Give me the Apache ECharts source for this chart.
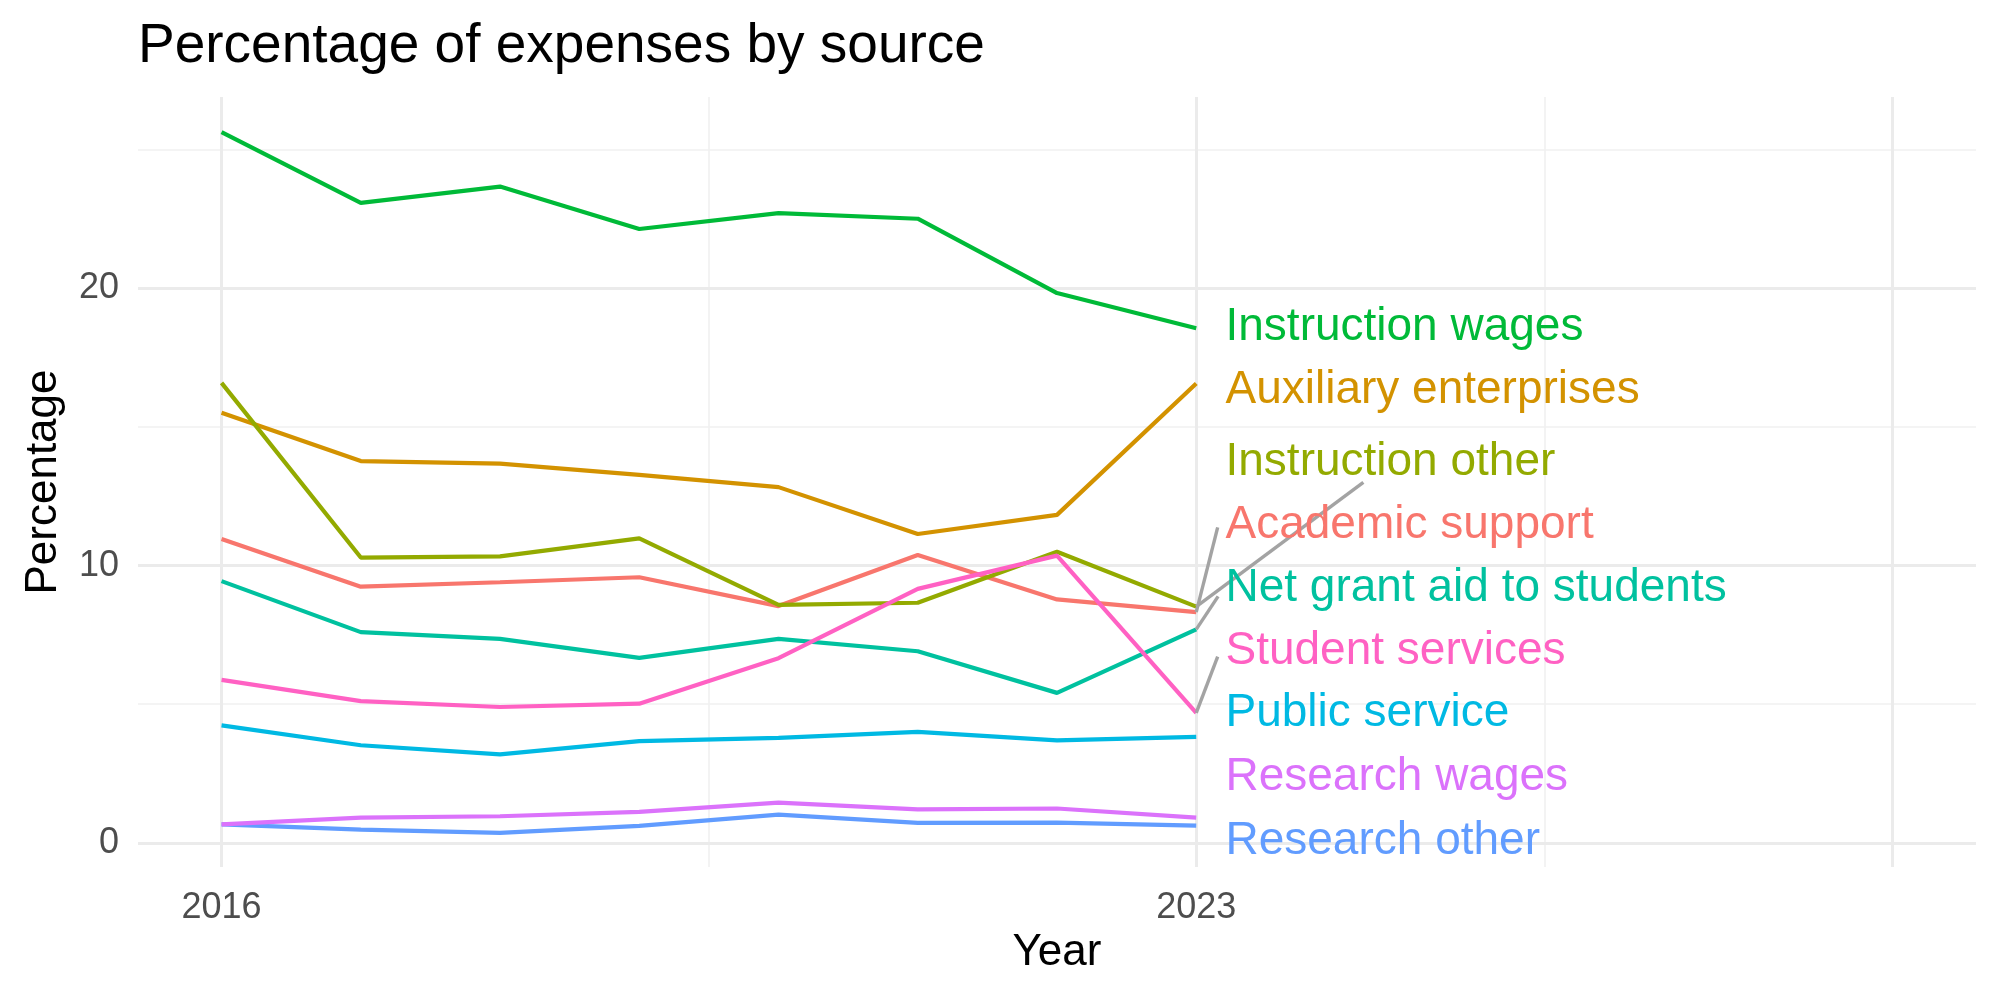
<!DOCTYPE html>
<html>
<head>
<meta charset="utf-8">
<title>Percentage of expenses by source</title>
<script src="https://cdn.jsdelivr.net/npm/echarts@6/dist/echarts.min.js"></script>
<style>
  html, body { margin: 0; padding: 0; background: #fff; }
  #chart { width: 2000px; height: 1000px; }
</style>
</head>
<body>
<div id="chart"></div>
<script>
// data
const years = [2016, 2017, 2018, 2019, 2020, 2021, 2022, 2023];

const academicSupport = [10.96, 9.24, 9.40, 9.58, 8.54, 10.38, 8.78, 8.32];
const auxiliaryEnterprises = [15.51, 13.77, 13.68, 13.27, 12.83, 11.14, 11.83, 16.57];
const instructionOther = [16.59, 10.29, 10.33, 10.98, 8.58, 8.66, 10.50, 8.52];
const instructionWages = [25.63, 23.08, 23.67, 22.14, 22.71, 22.51, 19.83, 18.56];
const netGrantAid = [9.44, 7.60, 7.36, 6.67, 7.36, 6.91, 5.41, 7.70];
const publicService = [4.24, 3.52, 3.19, 3.67, 3.79, 4.00, 3.70, 3.82];
const researchOther = [0.67, 0.48, 0.36, 0.61, 1.02, 0.72, 0.73, 0.62];
const researchWages = [0.67, 0.91, 0.96, 1.12, 1.45, 1.21, 1.24, 0.91];
const studentServices = [5.88, 5.11, 4.90, 5.02, 6.66, 9.16, 10.36, 4.69];

const xTickLabels = [2016, 2023];
const yTickLabels = [0, 10, 20];

// series set up in the ggplot hue order
const groups = [
  { name: 'Academic support', values: academicSupport, color: '#F8766D' },
  { name: 'Auxiliary enterprises', values: auxiliaryEnterprises, color: '#D39200' },
  { name: 'Instruction other', values: instructionOther, color: '#93AA00' },
  { name: 'Instruction wages', values: instructionWages, color: '#00BA38' },
  { name: 'Net grant aid to students', values: netGrantAid, color: '#00C19F' },
  { name: 'Public service', values: publicService, color: '#00B9E3' },
  { name: 'Research other', values: researchOther, color: '#619CFF' },
  { name: 'Research wages', values: researchWages, color: '#DB72FB' },
  { name: 'Student services', values: studentServices, color: '#FF61C3' }
];

// where the repelled labels sit (layout, not data)
const labelX = 2023.21;
const labelAt = {
  'Instruction wages': 18.58,
  'Auxiliary enterprises': 16.32,
  'Instruction other': 13.74,
  'Academic support': 11.44,
  'Net grant aid to students': 9.18,
  'Student services': 6.92,
  'Public service': 4.66,
  'Research wages': 2.36,
  'Research other': 0.06
};
// grey leader segments end points
const leaderEnd = {
  'Instruction other': [2024.2, 13.0],
  'Academic support': [2023.154, 11.38],
  'Net grant aid to students': [2023.157, 8.89],
  'Student services': [2023.154, 6.72]
};

const font = '"Liberation Sans", Arial, sans-serif';
const majorGrid = { color: '#EBEBEB', width: 3, type: 'solid' };
const minorGrid = { color: '#F0F0F0', width: 1.6, type: 'solid' };

const gridSeries = {
  type: 'line',
  data: [],
  silent: true,
  z: 1,
  markLine: {
    silent: true,
    z: 1,
    symbol: 'none',
    label: { show: false },
    animation: false,
    data: [
      { xAxis: 2019.5, lineStyle: minorGrid },
      { xAxis: 2025.5, lineStyle: minorGrid },
      { yAxis: 5, lineStyle: minorGrid },
      { yAxis: 15, lineStyle: minorGrid },
      { yAxis: 25, lineStyle: minorGrid },
      { xAxis: 2016, lineStyle: majorGrid },
      { xAxis: 2023, lineStyle: majorGrid },
      { xAxis: 2028, lineStyle: majorGrid },
      { yAxis: 0, lineStyle: majorGrid },
      { yAxis: 10, lineStyle: majorGrid },
      { yAxis: 20, lineStyle: majorGrid }
    ]
  }
};

const lineSeries = groups.map(g => {
  const last = g.values[g.values.length - 1];
  const s = {
    name: g.name,
    type: 'line',
    z: 3,
    data: years.map((y, i) => [y, g.values[i]]),
    showSymbol: false,
    symbol: 'none',
    lineStyle: { color: g.color, width: 4.2 },
    itemStyle: { color: g.color },
    animation: false,
    markPoint: {
      symbol: 'circle',
      symbolSize: 0,
      animation: false,
      data: [{
        coord: [labelX, labelAt[g.name]],
        label: {
          show: true,
          position: 'right',
          distance: 0,
          formatter: g.name,
          color: g.color,
          fontSize: 46,
          fontFamily: font
        }
      }]
    }
  };
  if (leaderEnd[g.name]) {
    s.markLine = {
      symbol: 'none',
      silent: true,
      z: 4,
      animation: false,
      label: { show: false },
      lineStyle: { color: '#A3A3A3', width: 3.4, type: 'solid' },
      data: [[{ coord: [2023, last] }, { coord: leaderEnd[g.name] }]]
    };
  }
  return s;
});

const myChart = echarts.init(document.getElementById('chart'));
myChart.setOption({
  backgroundColor: '#fff',
  animation: false,
  title: {
    text: 'Percentage of expenses by source',
    left: 138,
    top: 19,
    padding: 0,
    textStyle: { fontSize: 55, fontWeight: 'normal', color: '#000', fontFamily: font }
  },
  grid: { left: 138, right: 24, top: 97, bottom: 133, outerBoundsMode: 'none', containLabel: false },
  xAxis: {
    type: 'value',
    min: 2015.4,
    max: 2028.6,
    name: 'Year',
    nameLocation: 'middle',
    nameGap: 64,
    nameTextStyle: { fontSize: 44, color: '#000', fontFamily: font },
    axisLine: { show: false },
    axisTick: { show: false },
    splitLine: { show: false },
    axisLabel: {
      customValues: xTickLabels,
      margin: 23,
      fontSize: 36,
      color: '#4D4D4D',
      fontFamily: font,
      formatter: v => String(v)
    }
  },
  yAxis: {
    type: 'value',
    min: -0.87,
    max: 26.9,
    name: 'Percentage',
    nameLocation: 'middle',
    nameGap: 72,
    nameRotate: 90,
    nameTextStyle: { fontSize: 44, color: '#000', fontFamily: font },
    axisLine: { show: false },
    axisTick: { show: false },
    splitLine: { show: false },
    axisLabel: {
      customValues: yTickLabels,
      margin: 19,
      fontSize: 36,
      color: '#4D4D4D',
      fontFamily: font
    }
  },
  series: [gridSeries].concat(lineSeries)
});
</script>
</body>
</html>
